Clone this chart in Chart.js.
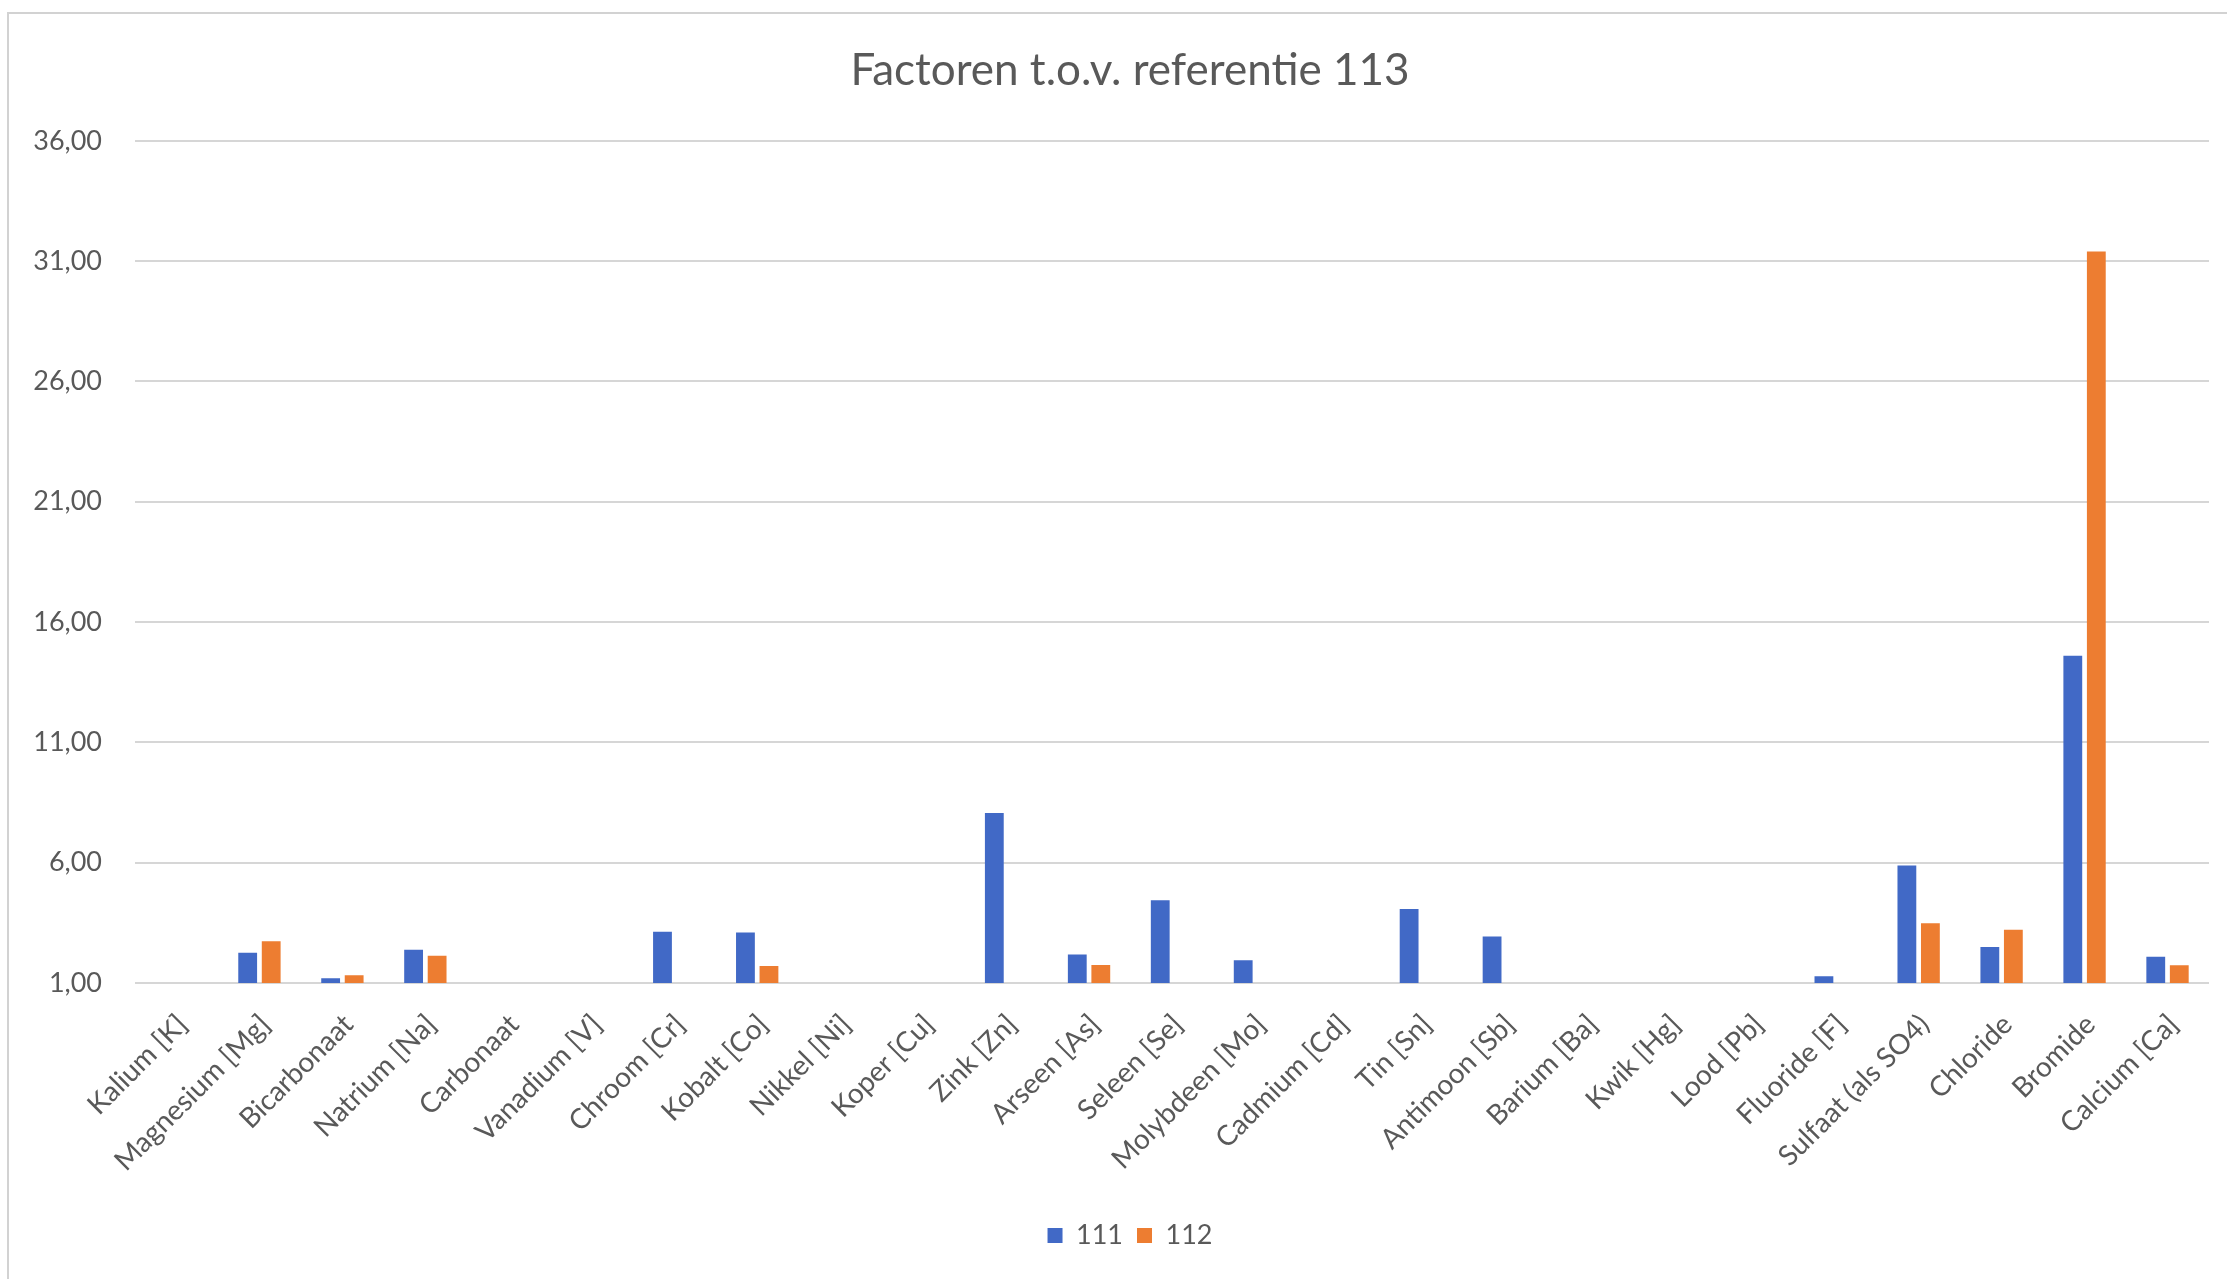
<!DOCTYPE html>
<html lang="nl">
<head>
<meta charset="utf-8">
<title>Factoren t.o.v. referentie 113</title>
<script src="https://cdn.jsdelivr.net/npm/chart.js@4/dist/chart.umd.min.js"></script>
<style>
    html, body { margin: 0; padding: 0; background: #fff; overflow: hidden; }
    #frame {
        position: absolute; left: 7px; top: 12px; width: 2260px; height: 1300px;
        border-left: 2px solid #d2d2d2; border-top: 2px solid #d2d2d2;
    }
    #wrap { position: absolute; left: 8px; top: 13px; width: 2244px; height: 1266px; }
</style>
</head>
<body>
<div id="frame"></div>
<div id="wrap"><canvas id="chart"></canvas></div>
<script>
const categories = [
    'Kalium [K]', 'Magnesium [Mg]', 'Bicarbonaat', 'Natrium [Na]', 'Carbonaat',
    'Vanadium [V]', 'Chroom [Cr]', 'Kobalt [Co]', 'Nikkel [Ni]', 'Koper [Cu]',
    'Zink [Zn]', 'Arseen [As]', 'Seleen [Se]', 'Molybdeen [Mo]', 'Cadmium [Cd]',
    'Tin [Sn]', 'Antimoon [Sb]', 'Barium [Ba]', 'Kwik [Hg]', 'Lood [Pb]',
    'Fluoride [F]', 'Sulfaat (als SO4)', 'Chloride', 'Bromide', 'Calcium [Ca]'
];
const series111 = [null, 2.26, 1.20, 2.38, null, null, 3.13, 3.10, null, null, 8.06, 2.18, 4.44, 1.95, null, 4.08, 2.93, null, null, null, 1.28, 5.88, 2.50, 14.6, 2.09];
const series112 = [null, 2.73, 1.32, 2.13, null, null, null, 1.71, null, null, null, 1.75, null, null, null, null, null, null, null, null, null, 3.48, 3.21, 31.4, 1.74];
const seriesNames = ['111', '112'];
const yTickValues = [1, 6, 11, 16, 21, 26, 31, 36];

document.addEventListener('DOMContentLoaded', () => {
    const ctx = document.getElementById('chart').getContext('2d');
    const textColor = '#595959';
    const gridColor = '#d6d6d6';

    // getal met komma, zoals in Excel
    const fmt = (v) => v.toFixed(2).replace('.', ',');

    new Chart(ctx, {
        type: 'bar',
        data: {
            labels: categories,
            datasets: [
                { label: seriesNames[0], data: series111, backgroundColor: '#4169C6' },
                { label: seriesNames[1], data: series112, backgroundColor: '#ED7D31' }
            ]
        },
        options: {
            responsive: true,
            maintainAspectRatio: false,
            animation: false,
            categoryPercentage: 0.567,
            barPercentage: 0.8,
            layout: { padding: { left: 0, right: 0, top: 0, bottom: 20 } },
            scales: {
                x: {
                    grid: { display: false, drawTicks: false },
                    border: { display: false },
                    ticks: {
                        color: textColor,
                        font: { family: 'Lato', size: 28 },
                        minRotation: 45,
                        maxRotation: 45,
                        autoSkip: false,
                        padding: 25,
                        labelOffset: 6
                    },
                    afterFit: (scale) => { scale.height = 225; }
                },
                y: {
                    min: yTickValues[0],
                    max: yTickValues[yTickValues.length - 1],
                    afterBuildTicks: (scale) => {
                        scale.ticks = yTickValues.map(v => ({ value: v }));
                    },
                    grid: { color: gridColor, lineWidth: 2, drawTicks: false },
                    border: { display: false },
                    ticks: {
                        color: textColor,
                        font: { family: 'Lato', size: 27 },
                        padding: 33,
                        callback: (value) => fmt(value)
                    },
                    afterFit: (scale) => { scale.width = 127; }
                },
                // lege as rechts, houdt de titel en legenda in het midden
                yRight: {
                    position: 'right',
                    grid: { display: false, drawTicks: false },
                    border: { display: false },
                    ticks: { display: false },
                    afterFit: (scale) => { scale.width = 43; }
                }
            },
            plugins: {
                title: {
                    display: true,
                    text: 'Factoren t.o.v. referentie 113',
                    color: textColor,
                    font: { family: 'Lato', size: 44, weight: 'normal' },
                    padding: { top: 31, bottom: 44 }
                },
                legend: {
                    position: 'bottom',
                    labels: {
                        color: textColor,
                        font: { family: 'Lato', size: 27 },
                        boxWidth: 15,
                        boxHeight: 15,
                        padding: 14
                    }
                },
                tooltip: { enabled: false }
            }
        }
    });
});
</script>
</body>
</html>
